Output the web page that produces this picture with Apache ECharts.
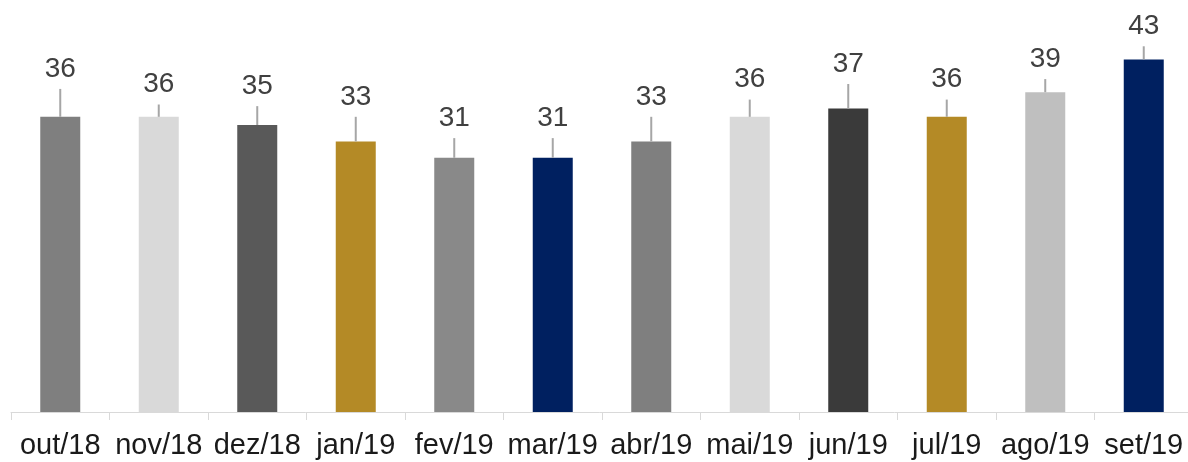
<!DOCTYPE html>
<html>
<head>
<meta charset="utf-8">
<script src="https://cdn.jsdelivr.net/npm/echarts@6/dist/echarts.min.js"></script>
<style>
html,body{margin:0;padding:0;background:#fff;}
#c{width:1188px;height:462px;}
</style>
</head>
<body>
<div id="c"></div>
<script>
const categories = ['out/18','nov/18','dez/18','jan/19','fev/19','mar/19','abr/19','mai/19','jun/19','jul/19','ago/19','set/19'];
const values = [36, 36, 35, 33, 31, 31, 33, 36, 37, 36, 39, 43];
const errorHigh = [39.4, 37.5, 37.3, 36.0, 33.4, 33.4, 36.0, 38.1, 40.0, 38.1, 40.6, 44.6];
const barColors = ['#7f7f7f','#d9d9d9','#595959','#b48a26','#898989','#002060','#7f7f7f','#d9d9d9','#3a3a3a','#b48a26','#bfbfbf','#002060'];

const chart = echarts.init(document.getElementById('c'), null, {renderer:'canvas'});
const fontFam = '"Liberation Sans", Arial, Helvetica, sans-serif';

chart.setOption({
  animation: false,
  backgroundColor: '#fff',
  grid: {left: 11, right: -5, top: 2, bottom: 50, containLabel: false, outerBoundsMode: 'none'},
  xAxis: {
    type: 'category',
    data: categories,
    boundaryGap: true,
    axisLine: {show: true, lineStyle: {color: '#d9d9d9', width: 1}},
    axisTick: {show: true, length: 8, lineStyle: {color: '#d9d9d9'}},
    axisLabel: {fontSize: 29, color: '#1a1a1a', margin: 19, fontFamily: fontFam, interval: 0, hideOverlap: false}
  },
  yAxis: {
    type: 'value', min: 0, max: 50, show: false,
    splitLine: {show: false}
  },
  series: [
    {
      type: 'bar',
      barWidth: 40,
      data: values.map((v, i) => ({value: v, itemStyle: {color: barColors[i]}})),
      z: 2
    },
    {
      type: 'custom',
      z: 3,
      data: values.map((v, i) => [i, v, errorHigh[i]]),
      renderItem: function (params, api) {
        const i = api.value(0);
        const base = api.coord([i, api.value(1)]);
        const top = api.coord([i, api.value(2)]);
        return {
          type: 'group',
          children: [
            {type: 'line', shape: {x1: base[0], y1: base[1], x2: top[0], y2: top[1]},
             style: {stroke: '#a6a6a6', lineWidth: 2}},
            {type: 'text', style: {text: String(Math.round(api.value(1))), x: top[0], y: top[1] - 20,
             align: 'center', verticalAlign: 'middle', fontSize: 28, fontFamily: fontFam, fill: '#404040'}}
          ]
        };
      }
    }
  ]
});
</script>
</body>
</html>
